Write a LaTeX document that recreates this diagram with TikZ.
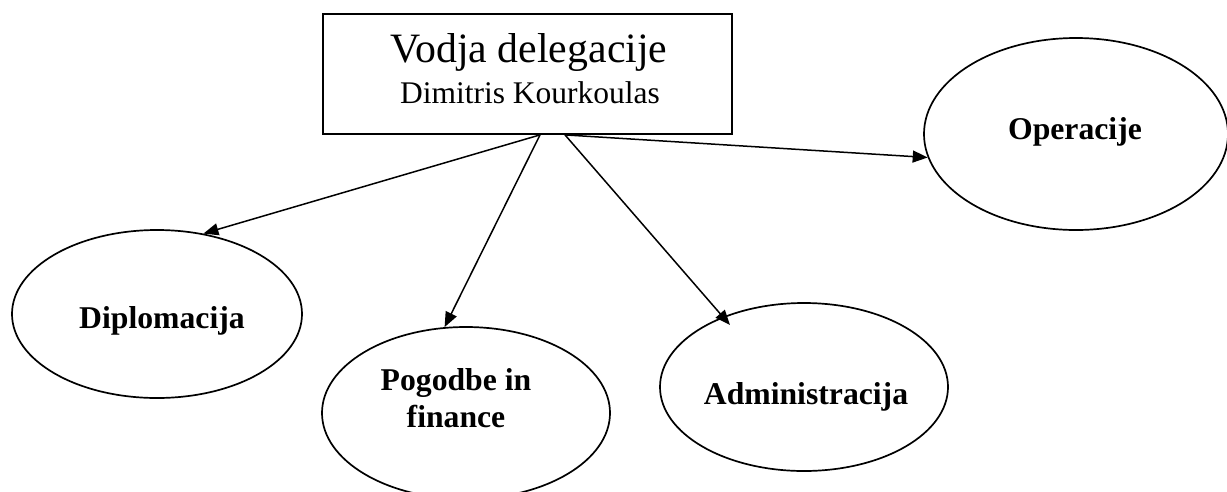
\documentclass[tikz,border=0pt]{standalone}
\usepackage{fontspec}
\setmainfont{Liberation Serif}
\usetikzlibrary{arrows.meta,calc,shapes.geometric}
\begin{document}
\begin{tikzpicture}[x=1pt,y=-1pt,
  unit/.style={draw, ellipse, line width=1.7pt, inner sep=0pt},
  headbox/.style={draw, rectangle, line width=1.8pt, inner sep=0pt},
  lbl/.style={font=\bfseries\fontsize{31.7}{37}\selectfont, inner sep=0pt, anchor=base},
  conn/.style={line width=1.5pt, -{Triangle[length=15pt,width=12pt]}}]
\useasboundingbox (0,0) rectangle (1227,491);
% head box
\node[headbox, minimum width=409pt, minimum height=120pt] (head) at (527.5,74) {};
\node[anchor=base, inner sep=0pt, font=\fontsize{41.8}{48}\selectfont] (title) at (529,62) {Vodja delegacije};
\node[anchor=base, inner sep=0pt, font=\fontsize{31.5}{36}\selectfont] (name) at (530,103) {Dimitris Kourkoulas};
% units
\node[unit, minimum width=290pt, minimum height=168pt] (dip) at (157,314) {};
\node[unit, minimum width=288pt, minimum height=172pt] (pog) at (466,413) {};
\node[unit, minimum width=288pt, minimum height=168pt] (adm) at (804,387) {};
\node[unit, minimum width=304pt, minimum height=192pt] (op) at (1076,134) {};
% labels
\node[lbl] (diplbl) at ($(dip.center)+(5,14)$) {Diplomacija};
\node[lbl] (pog1) at (456,390) {Pogodbe in};
\node[lbl] (pog2) at (456,427) {finance};
\node[lbl] (admlbl) at (806,404) {Administracija};
\node[lbl] (oplbl) at (1075,139) {Operacije};
% connectors
\coordinate (s1) at ($(head.south)+(12.5,0)$);
\coordinate (s2) at ($(head.south)+(37.5,0)$);
\coordinate (admtip) at ($(adm.center)+(-74,-62)$);
\draw[conn] (s1) -- (dip.60);
\draw[conn] (s1) -- (pog.104);
\draw[conn] (s2) -- (admtip);
\draw[conn] (s2) -- (op.189);
\end{tikzpicture}
\end{document}
